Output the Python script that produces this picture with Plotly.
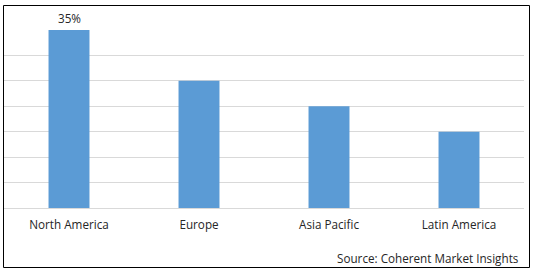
import plotly.graph_objects as go

categories = ["North America", "Europe", "Asia Pacific", "Latin America"]
values = [35, 25, 20, 15]
labels = ["35%", "", "", ""]
source_text = "Source: Coherent Market Insights"

W, H = 538, 272
L, R, T, B = 4, 14, 30, 64
pw, ph = W - L - R, H - T - B

def px_x(p):
    return (p - L) / pw

def px_y(p):
    return (H - B - p) / ph

font_family = "Open Sans, Liberation Sans, Arial, sans-serif"
text_color = "#262626"
fsize = 11.7

fig = go.Figure()
fig.add_trace(go.Bar(
    x=categories, y=values,
    marker=dict(color="#5B9BD5", line=dict(width=0)),
    cliponaxis=False,
))

annotations = [dict(x=c, y=v, text=t, xref="x", yref="y", showarrow=False,
                    yanchor="bottom", yshift=2,
                    font=dict(family=font_family, size=fsize, color=text_color))
               for c, v, t in zip(categories, values, labels) if t]
annotations.append(dict(text=source_text, xref="paper", yref="paper",
                        x=px_x(521), y=px_y(258), xanchor="right", yanchor="middle",
                        showarrow=False,
                        font=dict(family=font_family, size=fsize, color=text_color)))

fig.update_layout(
    width=W, height=H,
    margin=dict(l=L, r=R, t=T, b=B, pad=0),
    paper_bgcolor="white", plot_bgcolor="white",
    bargap=0.685,
    showlegend=False,
    font=dict(family=font_family, size=fsize, color=text_color),
    xaxis=dict(showgrid=False, showline=False, zeroline=False,
               ticks="", ticklabelstandoff=8,
               tickfont=dict(family=font_family, size=fsize, color=text_color)),
    yaxis=dict(range=[0, 35], dtick=5, showticklabels=False,
               showgrid=True, gridcolor="#D9D9D9", gridwidth=1,
               zeroline=True, zerolinecolor="#D9D9D9", zerolinewidth=1,
               showline=False),
    shapes=[dict(type="rect", xref="paper", yref="paper",
                 x0=px_x(3.5), x1=px_x(529.5), y0=px_y(267.5), y1=px_y(5.5),
                 line=dict(color="black", width=1), fillcolor="rgba(0,0,0,0)")],
    annotations=annotations,
)

fig.write_html("out.html")
